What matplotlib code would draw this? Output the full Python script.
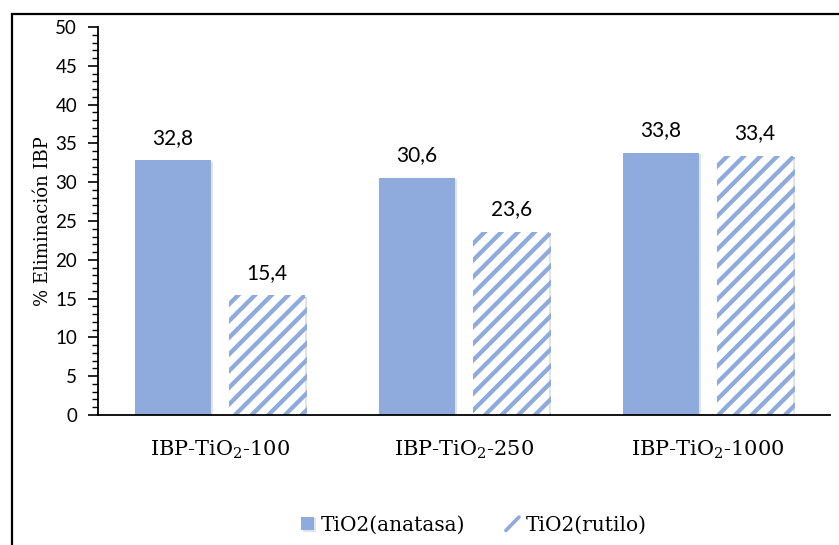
import matplotlib
matplotlib.use("Agg")
import matplotlib.pyplot as plt
import numpy as np
from matplotlib.patches import Rectangle
from matplotlib.lines import Line2D
from matplotlib.legend_handler import HandlerBase
from matplotlib.ticker import MultipleLocator
import matplotlib.patheffects as pe

categories = ["IBP-TiO$_\\mathrm{2}$-100", "IBP-TiO$_\\mathrm{2}$-250", "IBP-TiO$_\\mathrm{2}$-1000"]
series_names = ["TiO2(anatasa)", "TiO2(rutilo)"]
anatasa = [32.8, 30.6, 33.8]
rutilo = [15.4, 23.6, 33.4]
value_labels_anatasa = ["32,8", "30,6", "33,8"]
value_labels_rutilo = ["15,4", "23,6", "33,4"]

SERIF = "DejaVu Serif"
SANS = "Lato"
plt.rcParams["mathtext.fontset"] = "dejavuserif"
plt.rcParams["hatch.linewidth"] = 3.1
plt.rcParams["hatch.color"] = "#8FAADC"

W, H = 839, 545
fig = plt.figure(figsize=(W / 100, H / 100), dpi=100)
ax = fig.add_axes([98 / W, (H - 415) / H, (830 - 98) / W, (415 - 27) / H])

color = "#8FAADC"
x = np.arange(len(categories))
width = 0.311
off = 0.193
shadow = [pe.SimplePatchShadow(offset=(1.5, -1), shadow_rgbFace="#c8c8c8", alpha=0.5), pe.Normal()]
b1 = ax.bar(x - off, anatasa, width, color=color, label=series_names[0], zorder=2, path_effects=shadow)
b2 = ax.bar(x + off, rutilo, width, facecolor="white", edgecolor=color, hatch="//", linewidth=0,
            label=series_names[1], zorder=2, path_effects=shadow)

for xi, v, s in zip(x - off, anatasa, value_labels_anatasa):
    ax.text(xi, v + 1.6, s, ha="center", va="bottom", fontsize=15, family=SANS)
for xi, v, s in zip(x + off, rutilo, value_labels_rutilo):
    ax.text(xi, v + 1.6, s, ha="center", va="bottom", fontsize=15, family=SANS)

ax.set_xlim(-0.5, 2.5)
ax.set_ylim(0, 50)
ax.yaxis.set_major_locator(MultipleLocator(5))
ax.yaxis.set_minor_locator(MultipleLocator(1))
ax.tick_params(axis="y", which="major", length=7, width=1.2, direction="out", labelsize=13.5, pad=8)
ax.tick_params(axis="y", which="minor", length=4, width=1.0, direction="out")
for lab in ax.get_yticklabels():
    lab.set_family(SANS)
ax.set_xticks(x)
ax.set_xticklabels(categories, fontsize=15, family=SERIF)
ax.tick_params(axis="x", length=0, pad=17)
for sp in ["top", "right"]:
    ax.spines[sp].set_visible(False)
ax.spines["left"].set_linewidth(1.3)
ax.spines["bottom"].set_linewidth(1.3)
ax.set_ylabel("% Eliminación IBP", fontsize=13, family=SERIF)
ax.yaxis.set_label_coords(-0.063, 0.5)


class DiagHandler(HandlerBase):
    def create_artists(self, legend, orig_handle, xdescent, ydescent, width, height, fontsize, trans):
        ln = Line2D([0, width], [0, height], color=color, lw=2.6, solid_capstyle="round")
        ln.set_transform(trans)
        return [ln]


leg = fig.legend(handles=[b1, b2], labels=series_names, loc="center", bbox_to_anchor=(474 / W, (H - 525) / H),
                 ncol=2, frameon=False, prop={"family": SERIF, "size": 14.5}, handlelength=0.65, handleheight=0.65,
                 handletextpad=0.35, columnspacing=2.0, handler_map={b2: DiagHandler()})

fig.add_artist(Rectangle((12 / W, -0.1), 1.2, (H - 14) / H + 0.1, transform=fig.transFigure,
                         fill=False, lw=1.6, edgecolor="black"))

fig.savefig("out.png", dpi=100)
